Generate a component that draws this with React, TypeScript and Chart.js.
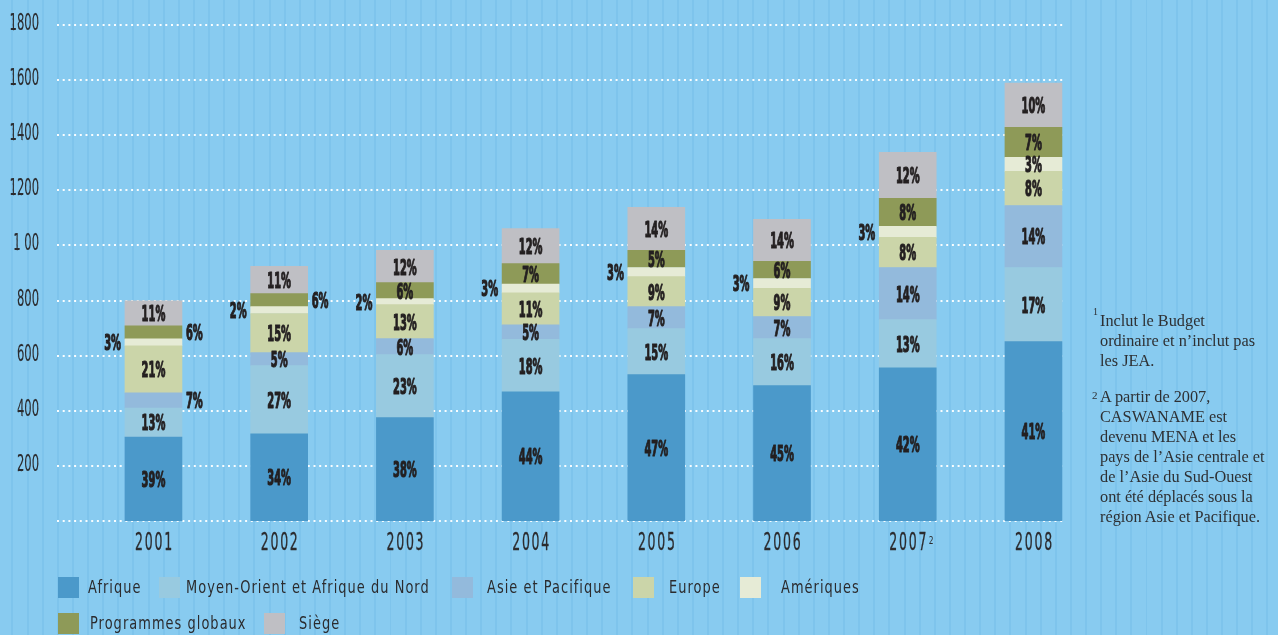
import React, { useEffect, useRef } from "react";
import { Chart, registerables } from "chart.js";

Chart.register(...registerables);

// ---------- DATA ----------
const years = ["2001", "2002", "2003", "2004", "2005", "2006", "2007", "2008"];
const yearNotes = ["", "", "", "", "", "", "2", ""];

const seriesNames = [
  "Afrique",
  "Moyen-Orient et Afrique du Nord",
  "Asie et Pacifique",
  "Europe",
  "Amériques",
  "Programmes globaux",
  "Siège",
];
const seriesColors = ["#4B99CA", "#98CAE0", "#93BADC", "#CBD5A9", "#E6EBD6", "#8E9A58", "#BFBFC4"];

const afrique = [305, 316, 375, 469, 531, 491, 556, 651];
const moyenOrient = [105, 248, 229, 190, 167, 171, 175, 269];
const asiePacifique = [55, 47, 58, 53, 80, 80, 189, 225];
const europe = [171, 142, 123, 116, 109, 102, 109, 124];
const ameriques = [25, 25, 22, 32, 33, 36, 40, 51];
const programmesGlobaux = [47, 47, 58, 74, 62, 62, 102, 109];
const siege = [91, 99, 117, 127, 156, 153, 167, 160];

const afriquePct = [39, 34, 38, 44, 47, 45, 42, 41];
const moyenOrientPct = [13, 27, 23, 18, 15, 16, 13, 17];
const asiePacifiquePct = [7, 5, 6, 5, 7, 7, 14, 14];
const europePct = [21, 15, 13, 11, 9, 9, 8, 8];
const ameriquesPct = [3, 2, 2, 3, 3, 3, 3, 3];
const programmesGlobauxPct = [6, 6, 6, 7, 5, 6, 8, 7];
const siegePct = [11, 11, 12, 12, 14, 14, 12, 10];

const yTickValues = [0, 200, 400, 600, 800, 1000, 1200, 1400, 1600, 1800];
const yTickLabels = ["", "200", "400", "600", "800", "1 00", "1200", "1400", "1600", "1800"];

const footnote1Lines = ["Inclut le Budget", "ordinaire et n’inclut pas", "les JEA."];
const footnote2Lines = [
  "A partir de 2007,",
  "CASWANAME est",
  "devenu MENA et les",
  "pays de l’Asie centrale et",
  "de l’Asie du Sud-Ouest",
  "ont été déplacés sous la",
  "région Asie et Pacifique.",
];

// ---------- STYLE HELPERS ----------
const seriesValues = [afrique, moyenOrient, asiePacifique, europe, ameriques, programmesGlobaux, siege];
const seriesPct = [afriquePct, moyenOrientPct, asiePacifiquePct, europePct, ameriquesPct, programmesGlobauxPct, siegePct];

// label side for small segments: key "series-year"
const outsideSide: Record<string, "left" | "right"> = {
  "2-0": "right",
  "4-0": "left",
  "5-0": "right",
  "4-1": "left",
  "5-1": "right",
  "4-2": "left",
  "4-3": "left",
  "4-4": "left",
  "4-5": "left",
  "4-6": "left",
};

const COND = '"DejaVu Sans Condensed", "DejaVu Sans", sans-serif';
const TEXT_DARK = "#2B2B2E";

function drawText(
  ctx: CanvasRenderingContext2D,
  text: string,
  x: number,
  y: number,
  font: string,
  sx: number,
  align: CanvasTextAlign,
  color: string,
  ls = 0,
  stroke = 0
) {
  ctx.save();
  ctx.translate(x, y);
  ctx.scale(sx, 1);
  ctx.font = font;
  ctx.fillStyle = color;
  ctx.textAlign = align;
  ctx.textBaseline = "alphabetic";
  (ctx as any).letterSpacing = ls + "px";
  ctx.fillText(text, 0, 0);
  if (stroke > 0) {
    ctx.strokeStyle = color;
    ctx.lineWidth = stroke;
    ctx.lineJoin = "round";
    ctx.strokeText(text, 0, 0);
  }
  ctx.restore();
}

const decorPlugin = {
  id: "decor",
  beforeDatasetsDraw(chart: any) {
    const ctx: CanvasRenderingContext2D = chart.ctx;
    const yScale = chart.scales.y;
    const area = chart.chartArea;
    const x0 = 57;
    const x1 = area.right - 34;
    ctx.save();
    ctx.strokeStyle = "rgba(255,255,255,0.95)";
    ctx.lineWidth = 2;
    ctx.setLineDash([2, 3.7]);
    yTickValues.forEach((v, i) => {
      const y = Math.round(yScale.getPixelForValue(v));
      ctx.beginPath();
      ctx.moveTo(x0, y);
      ctx.lineTo(x1, y);
      ctx.stroke();
      const lab = yTickLabels[i];
      if (lab) drawText(ctx, lab, 39, y + 5, `23px ${COND}`, 0.56, "right", TEXT_DARK, 0, 0.3);
    });
    ctx.restore();

    // x labels
    const meta = chart.getDatasetMeta(0);
    meta.data.forEach((bar: any, j: number) => {
      drawText(ctx, years[j], bar.x + 1, 550, `24px ${COND}`, 0.58, "center", TEXT_DARK, 3, 0.3);
      if (yearNotes[j]) {
        drawText(ctx, yearNotes[j], bar.x + 21, 544, `11px ${COND}`, 0.75, "left", TEXT_DARK);
      }
    });
  },
  afterDatasetsDraw(chart: any) {
    const ctx: CanvasRenderingContext2D = chart.ctx;
    seriesPct.forEach((pcts, i) => {
      const meta = chart.getDatasetMeta(i);
      meta.data.forEach((bar: any, j: number) => {
        const props = bar.getProps(["x", "y", "base", "width"], true);
        const cy = (props.y + props.base) / 2;
        const side = outsideSide[`${i}-${j}`];
        const txt = `${pcts[j]}%`;
        const font = `bold 22px ${COND}`;
        let x = props.x;
        let align: CanvasTextAlign = "center";
        if (side === "left") {
          x = props.x - props.width / 2 - 4;
          align = "right";
        } else if (side === "right") {
          x = props.x + props.width / 2 + 4;
          align = "left";
        }
        drawText(ctx, txt, x, cy + 8, font, 0.5, align, "#231F20", 0, 1.2);
      });
    });
  },
};

export default function App() {
  const canvasRef = useRef<HTMLCanvasElement | null>(null);

  useEffect(() => {
    if (!canvasRef.current) return;
    const chart = new Chart(canvasRef.current, {
      type: "bar",
      data: {
        labels: years,
        datasets: seriesNames.map((name, i) => ({
          label: name,
          data: seriesValues[i],
          backgroundColor: seriesColors[i],
          borderWidth: 0,
          barThickness: 57,
          stack: "s",
        })),
      },
      options: {
        animation: false,
        responsive: false,
        devicePixelRatio: 1,
        layout: { padding: { left: 90.6, right: 181.7, top: 25, bottom: 114 } },
        plugins: { legend: { display: false }, tooltip: { enabled: false } },
        scales: {
          x: { stacked: true, display: false },
          y: { stacked: true, display: false, min: 0, max: 1800 },
        },
      },
      plugins: [decorPlugin],
    });
    return () => chart.destroy();
  }, []);

  const legendItems = [
    { i: 0, sq: 58, tx: 88, top: 577 },
    { i: 1, sq: 159, tx: 186, top: 577 },
    { i: 2, sq: 452, tx: 487, top: 577 },
    { i: 3, sq: 633, tx: 669, top: 577 },
    { i: 4, sq: 740, tx: 781, top: 577 },
    { i: 5, sq: 58, tx: 90, top: 613 },
    { i: 6, sq: 264, tx: 299, top: 613 },
  ];

  const footStyle: React.CSSProperties = {
    position: "absolute",
    left: 1100,
    fontFamily: '"Liberation Serif", "DejaVu Serif", serif',
    fontSize: 16.3,
    lineHeight: "20px",
    color: "#2E3033",
    whiteSpace: "nowrap",
  };

  return (
    <div
      style={{
        position: "absolute",
        left: 0,
        top: 0,
        width: 1278,
        height: 635,
        overflow: "hidden",
        background:
          "repeating-linear-gradient(90deg, #88CBF0 0px, #88CBF0 11.5px, #7EC4EC 11.5px, #7EC4EC 13.5px, #88CBF0 13.5px, #88CBF0 15.12px)",
      }}
    >
      <canvas ref={canvasRef} width={1278} height={635} style={{ position: "absolute", left: 0, top: 0 }} />
      {legendItems.map((it) => (
        <React.Fragment key={it.i}>
          <div
            style={{
              position: "absolute",
              left: it.sq,
              top: it.top,
              width: 21,
              height: 21,
              background: seriesColors[it.i],
            }}
          />
          <div
            style={{
              position: "absolute",
              left: it.tx,
              top: it.top - 2,
              height: 24,
              lineHeight: "24px",
              fontFamily: COND,
              fontSize: 18,
              letterSpacing: "1.3px",
              color: TEXT_DARK,
              whiteSpace: "nowrap",
              transform: "scaleX(0.8)",
              transformOrigin: "0 50%",
            }}
          >
            {seriesNames[it.i]}
          </div>
        </React.Fragment>
      ))}
      <div style={{ ...footStyle, left: 1093, top: 302, fontSize: 10 }}>1</div>
      <div style={{ ...footStyle, top: 310.5 }}>
        {footnote1Lines.map((l, k) => (
          <div key={k}>{l}</div>
        ))}
      </div>
      <div style={{ ...footStyle, left: 1092, top: 385, fontSize: 11 }}>2</div>
      <div style={{ ...footStyle, top: 386.5 }}>
        {footnote2Lines.map((l, k) => (
          <div key={k}>{l}</div>
        ))}
      </div>
    </div>
  );
}
